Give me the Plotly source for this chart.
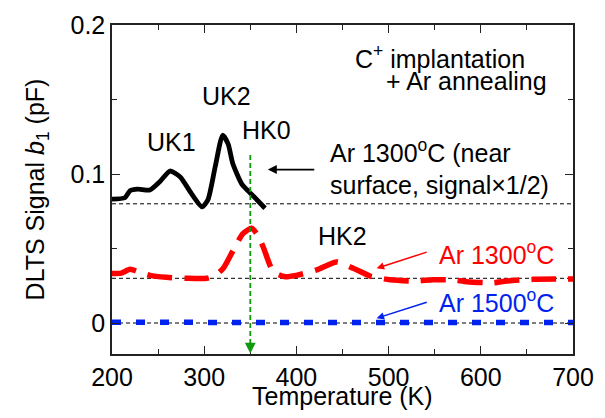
import plotly.graph_objects as go

# Ar 1300C near surface (signal x1/2)
t_near = [200, 214, 219.5, 228, 241, 252, 263, 274, 286, 297.6, 304, 312, 320, 326, 331, 341, 352, 366]
s_near = [0.0832, 0.0841, 0.0888, 0.0899, 0.0893, 0.095, 0.102, 0.098, 0.087, 0.078, 0.0826, 0.105, 0.126, 0.120, 0.107, 0.093, 0.086, 0.077]

# Ar 1300C
t_1300 = [200, 210, 219.5, 230, 241, 259, 281, 302.7, 312, 320.7, 331.6, 342, 351.5, 358, 364, 375, 388, 400, 422, 443.7, 461.7, 480, 501.5, 526.8, 548.5, 570, 584.7, 613.6, 628, 657, 700]
s_1300 = [0.0333, 0.0335, 0.036, 0.034, 0.032, 0.0307, 0.030, 0.030, 0.032, 0.0367, 0.049, 0.060, 0.0636, 0.059, 0.051, 0.0344, 0.031, 0.032, 0.0356, 0.041, 0.0367, 0.0315, 0.029, 0.0282, 0.029, 0.029, 0.0277, 0.027, 0.0282, 0.0293, 0.0295]

# Ar 1500C
t_1500 = [200, 250, 300, 350, 400, 450, 500, 550, 600, 650, 700]
s_1500 = [0.0005, 0.0003, 0.0004, 0.0003, 0.0004, 0.0003, 0.0004, 0.0003, 0.0004, 0.0003, 0.0004]

baselines = [0.08, 0.03, 0.0]
x_ticks = [200, 300, 400, 500, 600, 700]
y_ticks = [0, 0.1, 0.2]
y_tick_text = ["0", "0.1", "0.2"]
hk0_T = 350

FONT = "Liberation Sans, Arial, sans-serif"
FS = 25

fig = go.Figure()

for b in baselines:
    fig.add_trace(go.Scatter(x=[200, 700], y=[b, b], mode="lines",
                             line=dict(color="black", width=1, dash="4px,3px"),
                             showlegend=False, hoverinfo="skip"))

fig.add_trace(go.Scatter(x=t_near, y=s_near, mode="lines",
                         line=dict(color="black", width=4.8, shape="spline", smoothing=0.6),
                         showlegend=False))
fig.add_trace(go.Scatter(x=t_1300, y=s_1300, mode="lines",
                         line=dict(color="#ff0000", width=5.5, shape="spline", smoothing=0.6, dash="25px,12px"),
                         showlegend=False))
fig.add_trace(go.Scatter(x=t_1500, y=s_1500, mode="lines",
                         line=dict(color="#0022ee", width=5.5, dash="9px,15px"),
                         showlegend=False))

# green vertical dashed arrow at HK0
fig.add_trace(go.Scatter(x=[hk0_T, hk0_T], y=[0.1128, -0.014], mode="lines",
                         line=dict(color="#119911", width=1.8, dash="5px,3px"),
                         showlegend=False, hoverinfo="skip"))
fig.add_annotation(x=hk0_T, y=-0.0205, ax=hk0_T, ay=-0.012, xref="x", yref="y", axref="x", ayref="y",
                   showarrow=True, arrowhead=2, arrowsize=1.2, arrowwidth=1.8, arrowcolor="#119911", text="")

# arrows
fig.add_annotation(x=369, y=0.103, ax=421, ay=0.103, xref="x", yref="y", axref="x", ayref="y",
                   showarrow=True, arrowhead=2, arrowsize=1, arrowwidth=1.8, arrowcolor="black", text="")
fig.add_annotation(x=487, y=0.0367, ax=543, ay=0.0479, xref="x", yref="y", axref="x", ayref="y",
                   showarrow=True, arrowhead=2, arrowsize=1, arrowwidth=1.5, arrowcolor="#ff0000", text="")
fig.add_annotation(x=487, y=0.0032, ax=543, ay=0.0143, xref="x", yref="y", axref="x", ayref="y",
                   showarrow=True, arrowhead=2, arrowsize=1, arrowwidth=1.5, arrowcolor="#0022ee", text="")

def label(x, y, text, color="black", xanchor="center", align="center", size=FS):
    fig.add_annotation(x=x, y=y, xref="x", yref="y", text=text, showarrow=False,
                       xanchor=xanchor, yanchor="middle", align=align,
                       font=dict(family=FONT, size=size, color=color))

label(264, 0.1215, "UK1")
label(324.4, 0.1525, "UK2")
label(367.6, 0.1295, "HK0")
label(449.5, 0.0585, "HK2")
label(434, 0.1045, "Ar 1300<sup>o</sup>C (near<br>surface, signal×1/2)", xanchor="left", align="left")
label(555.7, 0.1785, "C<sup>+</sup> implantation")
label(585, 0.1624, "+ Ar annealing")
label(617, 0.0468, "Ar 1300<sup>o</sup>C", color="#ff0000")
label(617, 0.0150, "Ar 1500<sup>o</sup>C", color="#0022ee")

# x-axis title as annotation (placed closer to tick labels)
fig.add_annotation(x=0.5, y=-0.128, xref="paper", yref="paper", text="Temperature (K)", showarrow=False,
                   xanchor="center", yanchor="middle", font=dict(family=FONT, size=FS, color="black"))

axis_common = dict(showline=True, linecolor="#222", linewidth=1.5, mirror="ticks",
                   ticks="inside", ticklen=8, tickwidth=1.2, tickcolor="#222",
                   showgrid=False, zeroline=False,
                   tickfont=dict(family=FONT, size=FS, color="black"))

fig.update_xaxes(range=[200, 700], tickvals=x_ticks,
                 minor=dict(ticks="inside", ticklen=5, dtick=50, tickcolor="#222", tickwidth=1.2),
                 **axis_common)
fig.update_yaxes(range=[-0.0208, 0.2], tickvals=y_ticks, ticktext=y_tick_text,
                 minor=dict(ticks="inside", ticklen=5, dtick=0.05, tick0=0, tickcolor="#222", tickwidth=1.2),
                 title=dict(text="DLTS Signal <i>b</i><sub>1</sub> (pF)", font=dict(family=FONT, size=FS, color="black"), standoff=19),
                 **axis_common)

fig.update_layout(width=605, height=418, margin=dict(l=112, r=32, t=25, b=64),
                  plot_bgcolor="white", paper_bgcolor="white", showlegend=False)

fig.write_html("out.html")
